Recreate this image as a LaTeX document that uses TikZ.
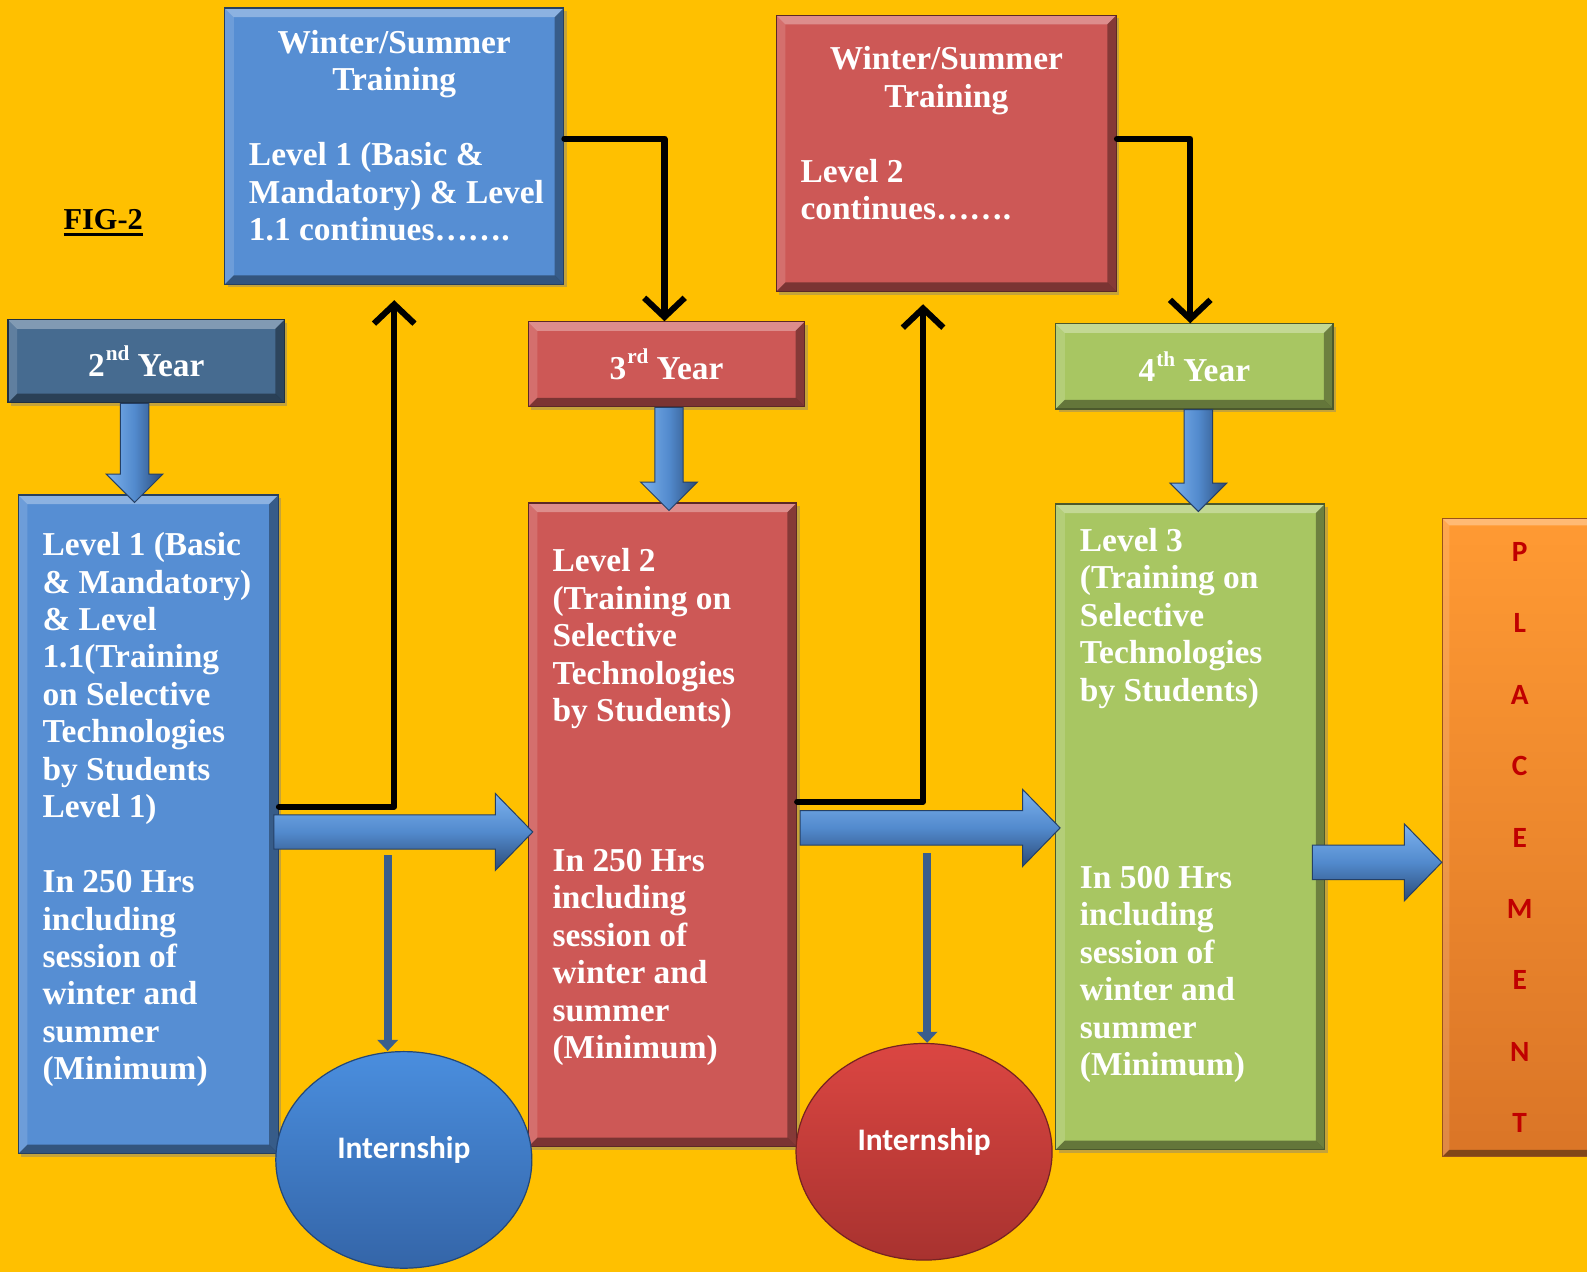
\documentclass[tikz,border=0pt]{standalone}
\usepackage{fontspec}
\setmainfont{Liberation Serif}
\newfontfamily\calib{Carlito}
\usetikzlibrary{shapes.geometric,arrows.meta,calc,shadows}

\definecolor{bg}{HTML}{FFC000}
\definecolor{bluebox}{HTML}{568ED3}
\definecolor{blueyear}{HTML}{466B90}
\definecolor{redbox}{HTML}{CD5856}
\definecolor{greenbox}{HTML}{A8C662}
\definecolor{orangeT}{HTML}{FF9A33}
\definecolor{orangeB}{HTML}{DA7527}
\definecolor{arrT}{HTML}{7DB2EE}
\definecolor{arrM}{HTML}{528ACD}
\definecolor{arrB}{HTML}{2B4B78}
\definecolor{thinblue}{HTML}{3A5E8C}
\definecolor{placered}{HTML}{C00000}
\definecolor{ellBT}{HTML}{4A8EDE}
\definecolor{ellBB}{HTML}{3465A8}
\definecolor{ellRT}{HTML}{DB4642}
\definecolor{ellRB}{HTML}{A8322F}

\newcommand\myul[1]{\setbox0=\hbox{#1}\rlap{\rule[-6pt]{\wd0}{3pt}}\box0}
\newcommand\inbox[4]{\parbox[c][#2pt][t]{#1pt}{\vspace*{#3pt}#4}}
\newcommand\lft{\raggedright\leftskip=24pt\rightskip=-60pt plus 1fil\relax}
\newcommand\bxfont{\fontsize{33}{37}\selectfont\bfseries}
\newcommand\yrfont{\fontsize{33}{38}\selectfont\bfseries}
\newcommand\sups[1]{\kern1pt{\fontsize{21}{21}\selectfont\raisebox{15pt}{#1}}\kern8pt}

\newcommand\harrow[5]{% start node, end node, y, start overlap, tip overlap
  \path[blkH] let \p1=(#1.east), \p2=(#2.west) in
    (\x1-#4,-#3+17) -- (\x2+#5-37,-#3+17) -- (\x2+#5-37,-#3+38) -- (\x2+#5,-#3)
    -- (\x2+#5-37,-#3-38) -- (\x2+#5-37,-#3-17) -- (\x1-#4,-#3-17) -- cycle;}
\newcommand\varrow[3]{% start node, end node, x
  \path[blkV] let \p1=(#1.south), \p2=(#2.north) in
    (#3-14,\y1) -- (#3+14,\y1) -- (#3+14,\y2+20) -- (#3+28,\y2+20) -- (#3,\y2-8)
    -- (#3-28,\y2+20) -- (#3-14,\y2+20) -- cycle;}

\tikzset{
  bevel/.style={path picture={
    \fill[white,opacity=.32] (path picture bounding box.north west) -- (path picture bounding box.north east) -- ([shift={(-#1pt,-#1pt)}]path picture bounding box.north east) -- ([shift={(#1pt,-#1pt)}]path picture bounding box.north west) -- cycle;
    \fill[white,opacity=.14] (path picture bounding box.north west) -- (path picture bounding box.south west) -- ([shift={(#1pt,#1pt)}]path picture bounding box.south west) -- ([shift={(#1pt,-#1pt)}]path picture bounding box.north west) -- cycle;
    \fill[black,opacity=.35] (path picture bounding box.north east) -- (path picture bounding box.south east) -- ([shift={(-#1pt,#1pt)}]path picture bounding box.south east) -- ([shift={(-#1pt,-#1pt)}]path picture bounding box.north east) -- cycle;
    \fill[black,opacity=.40] (path picture bounding box.south west) -- (path picture bounding box.south east) -- ([shift={(-#1pt,#1pt)}]path picture bounding box.south east) -- ([shift={(#1pt,#1pt)}]path picture bounding box.south west) -- cycle;
  }},
  bevel/.default=9,
  panel/.style={fill=#1, draw=#1!45!black, line width=1.2pt, inner sep=0pt, bevel,
    drop shadow={shadow xshift=3pt, shadow yshift=-3pt, opacity=.45},
    text=white, font=\bxfont},
  yearbox/.style={panel=#1, font=\yrfont},
  blkH/.style={top color=arrT, bottom color=arrB, middle color=arrM, draw=arrB!85!black, line width=1pt},
  blkV/.style={left color=arrT, right color=arrB, middle color=arrM, draw=arrB!85!black, line width=1pt},
  conn/.style={draw=black, line width=6pt, line cap=round, line join=round,
    -{Straight Barb[length=19pt,width=40pt]}},
  thinarrow/.style={draw=thinblue, line width=8pt, -{Triangle[length=11pt,width=20pt]}},
  bubble/.style={ellipse, inner sep=0pt, minimum width=253pt, minimum height=214pt,
    text=white, font={\calib\fontsize{31}{36}\selectfont\bfseries}},
}

\begin{document}
\begin{tikzpicture}[x=1pt,y=1pt]
\useasboundingbox (0,0) rectangle (1568,-1257);
\fill[bg] (0,0) rectangle (1568,-1257);

% title
\node (fig) at (102,-220) {\fontsize{30}{36}\selectfont\bfseries\myul{FIG-2}};

% top training boxes
\node[panel=bluebox, minimum width=335pt, minimum height=273pt] (w1) at (389.5,-144.5)
  {\inbox{335}{273}{22}{{\centering Winter/Summer\\Training\par}\vspace{37pt}{\lft Level 1 (Basic \&\\Mandatory) \& Level\\1.1 continues…….\par}}};
\node[panel=redbox, minimum width=336pt, minimum height=273pt] (w2) at (935,-151.5)
  {\inbox{336}{273}{31}{{\centering Winter/Summer\\Training\par}\vspace{37pt}{\lft Level 2\\continues…….\par}}};

% year boxes
\node[yearbox=blueyear, minimum width=273pt, minimum height=82pt] (y2) at (144.5,-357) {\raisebox{-5pt}{2\sups{nd}Year}};
\node[yearbox=redbox, minimum width=273pt, minimum height=84pt] (y3) at (658.5,-360) {\raisebox{-6pt}{3\sups{rd}Year}};
\node[yearbox=greenbox, minimum width=274pt, minimum height=84pt] (y4) at (1180,-362) {\raisebox{-7pt}{4\sups{th}Year}};

% level boxes
\node[panel=bluebox, minimum width=257pt, minimum height=651pt] (b1) at (146.5,-814.5)
  {\inbox{257}{651}{37}{\lft Level 1 (Basic\\\& Mandatory)\\\& Level\\1.1(Training\\on Selective\\Technologies\\by Students\\Level 1)\\[37pt]In 250 Hrs\\including\\session of\\winter and\\summer\\(Minimum)\par}};
\node[panel=redbox, minimum width=265pt, minimum height=636pt] (r1) at (654.5,-815)
  {\inbox{265}{636}{45}{\lft Level 2\\(Training on\\Selective\\Technologies\\by Students)\\[111pt]In 250 Hrs\\including\\session of\\winter and\\summer\\(Minimum)\par}};
\node[panel=greenbox, minimum width=266pt, minimum height=638pt] (g1) at (1176,-817)
  {\inbox{266}{638}{24}{\lft Level 3\\(Training on\\Selective\\Technologies\\by Students)\\[148pt]In 500 Hrs\\including\\session of\\winter and\\summer\\(Minimum)\par}};

% placement
\node[top color=orangeT, bottom color=orangeB, draw=orangeB!70!black, line width=1pt, bevel=7,
      minimum width=153pt, minimum height=631pt, inner sep=0pt, align=center,
      text=placered, font={\calib\fontsize{29}{70.5}\selectfont\bfseries}] (p1) at (1501.5,-827.5)
  {\raisebox{3pt}{\shortstack{}}P\\L\\A\\C\\E\\M\\E\\N\\T};

% internship bubbles
\node[bubble, top color=ellBT, bottom color=ellBB,
      draw=ellBB!70!black, line width=1.2pt] (e1) at (399,-1146) {\raisebox{25pt}{Internship}};
\node[bubble, top color=ellRT, bottom color=ellRB,
      draw=ellRB!70!black, line width=1.2pt] (e2) at (913,-1138) {\raisebox{25pt}{Internship}};

% block arrows
\varrow{y2}{b1}{133}
\varrow{y3}{r1}{661}
\varrow{y4}{g1}{1184}
\harrow{b1}{r1}{822}{5}{5}
\harrow{r1}{g1}{818}{-3}{5}
\harrow{g1}{p1}{852}{13}{0}

% black connectors
\draw[conn] ([yshift=17.5pt]b1.east) -| ([yshift=-15pt]w1.south);
\draw[conn] ([yshift=7.5pt]w1.east) -| ([xshift=-2pt]y3.north);
\draw[conn] ([yshift=23pt]r1.east) -| ([xshift=-23pt,yshift=-12pt]w2.south);
\draw[conn] ([yshift=14.5pt]w2.east) -| ([xshift=-4pt]y4.north);

% thin arrows to internships
\coordinate (t1) at (383,-845);
\coordinate (t2) at (916,-843);
\draw[thinarrow] (t1) -- (t1 |- e1.north);
\draw[thinarrow] (t2) -- (t2 |- e2.north);
\end{tikzpicture}
\end{document}
